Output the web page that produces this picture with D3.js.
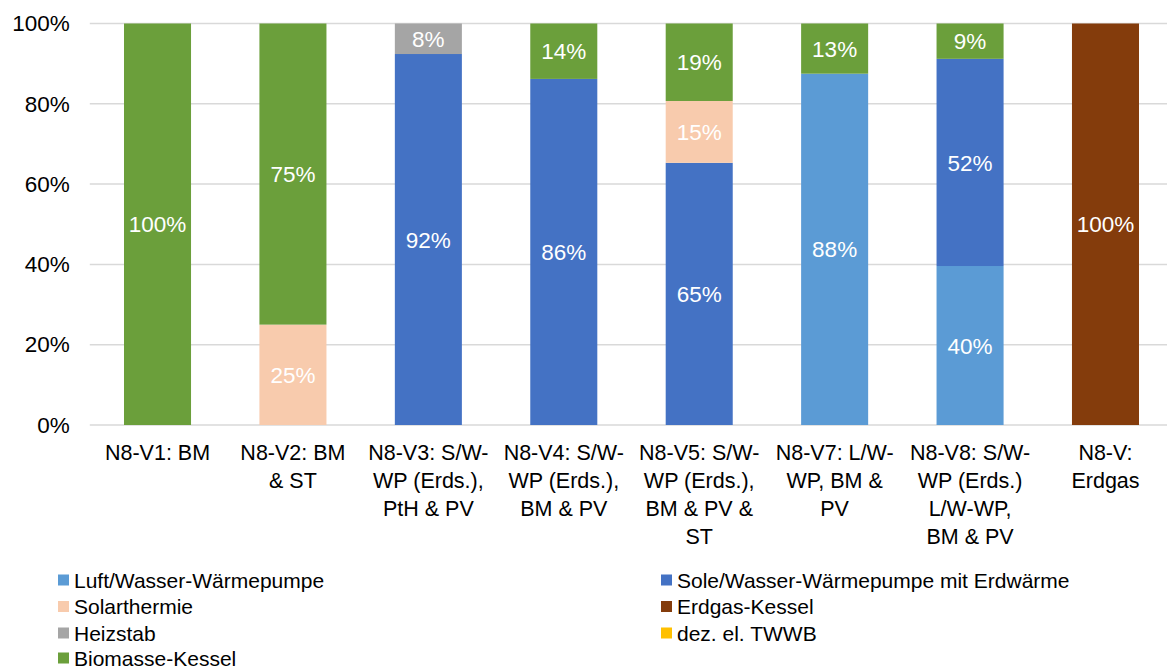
<!DOCTYPE html>
<html><head><meta charset="utf-8">
<script src="https://cdn.jsdelivr.net/npm/d3@7"></script>
<style>
html,body{margin:0;padding:0;background:#fff;}
svg{display:block;font-family:"Liberation Sans",Arial,sans-serif;}
</style></head>
<body>
<svg id="chart" width="1167" height="671"></svg>
<script>
const categories = [
  "N8-V1: BM",
  "N8-V2: BM\n& ST",
  "N8-V3: S/W-\nWP (Erds.),\nPtH & PV",
  "N8-V4: S/W-\nWP (Erds.),\nBM & PV",
  "N8-V5: S/W-\nWP (Erds.),\nBM & PV &\nST",
  "N8-V7: L/W-\nWP, BM &\nPV",
  "N8-V8: S/W-\nWP (Erds.)\nL/W-WP,\nBM & PV",
  "N8-V:\nErdgas"
];
const seriesNames = [
  "Luft/Wasser-Wärmepumpe",
  "Sole/Wasser-Wärmepumpe mit Erdwärme",
  "Solarthermie",
  "Erdgas-Kessel",
  "Heizstab",
  "dez. el. TWWB",
  "Biomasse-Kessel"
];
const seriesColors = ["#5B9BD5","#4472C4","#F8CBAD","#843C0C","#A5A5A5","#FFC000","#6B9F3B"];
// values in percent, per series, per category
const luftWasser   = [0, 0, 0, 0, 0, 87.5, 39.6, 0];
const soleWasser   = [0, 0, 92.4, 86.2, 65.3, 0, 51.6, 0];
const solarthermie = [0, 25, 0, 0, 15.4, 0, 0, 0];
const erdgas       = [0, 0, 0, 0, 0, 0, 0, 100];
const heizstab     = [0, 0, 7.6, 0, 0, 0, 0, 0];
const twwb         = [0, 0, 0, 0, 0, 0, 0, 0];
const biomasse     = [100, 75, 0, 13.8, 19.3, 12.5, 8.8, 0];
const yTicks = [0, 20, 40, 60, 80, 100];

const seriesValues = [luftWasser, soleWasser, solarthermie, erdgas, heizstab, twwb, biomasse];
const table = categories.map((c, i) => {
  const row = {cat: c};
  seriesNames.forEach((s, j) => row[s] = seriesValues[j][i]);
  return row;
});

(function draw() {
const svg = d3.select("#chart");
const pLeft = 89.8, pRight = 1173.2, pTop = 23.5, pBottom = 425;
const x = d3.scaleBand().domain(categories).range([pLeft, pRight]).paddingInner(0.505).paddingOuter(0.2525);
const y = d3.scaleLinear().domain([0, 100]).range([pBottom, pTop]);

// gridlines
svg.append("g").selectAll("line").data(yTicks).join("line")
  .attr("x1", pLeft).attr("x2", pRight)
  .attr("y1", d => y(d)).attr("y2", d => y(d))
  .attr("stroke", "#D9D9D9").attr("stroke-width", 1.5);

// y axis labels
const yAxis = d3.axisLeft(y).tickValues(yTicks).tickFormat(d => d + "%").tickSize(0).tickPadding(20);
const gy = svg.append("g").attr("transform", `translate(${pLeft},0)`).call(yAxis);
gy.select(".domain").remove();
gy.selectAll("text").attr("font-size", 22.5).attr("fill", "#000").attr("font-family", "Liberation Sans, Arial, sans-serif");

const stacked = d3.stack().keys(seriesNames)(table);

const gBars = svg.append("g");
stacked.forEach((layer, j) => {
  gBars.append("g").attr("fill", seriesColors[j]).selectAll("rect").data(layer).join("rect")
    .attr("x", d => x(d.data.cat))
    .attr("width", x.bandwidth())
    .attr("y", d => y(d[1]))
    .attr("height", d => y(d[0]) - y(d[1]));
});
// data labels
stacked.forEach((layer, j) => {
  gBars.append("g").selectAll("text").data(layer.filter(d => d[1] - d[0] > 0)).join("text")
    .attr("x", d => x(d.data.cat) + x.bandwidth() / 2)
    .attr("y", d => (y(d[0]) + y(d[1])) / 2)
    .attr("dy", "0.36em")
    .attr("text-anchor", "middle")
    .attr("font-size", 22.5)
    .attr("fill", "#fff")
    .text(d => Math.round(d[1] - d[0]) + "%");
});

// x axis labels
const gx = svg.append("g");
categories.forEach(c => {
  const lines = c.split("\n");
  const t = gx.append("text").attr("text-anchor", "middle").attr("font-size", 21.5).attr("fill", "#000");
  lines.forEach((ln, k) => {
    t.append("tspan").attr("x", x(c) + x.bandwidth() / 2).attr("y", 459.5 + k * 28.3).text(ln);
  });
});

// legend
const legendPos = [[58, 580], [661, 580], [58, 606.5], [661, 606.5], [58, 633], [661, 633], [58, 658]];
const gl = svg.append("g");
seriesNames.forEach((s, j) => {
  const [lx, ly] = legendPos[j];
  gl.append("rect").attr("x", lx).attr("y", ly - 5.5).attr("width", 11).attr("height", 11).attr("fill", seriesColors[j]);
  gl.append("text").attr("x", lx + 16).attr("y", ly).attr("dy", "0.36em").attr("font-size", 21).attr("fill", "#000").text(s);
});
})();
</script>
</body></html>
